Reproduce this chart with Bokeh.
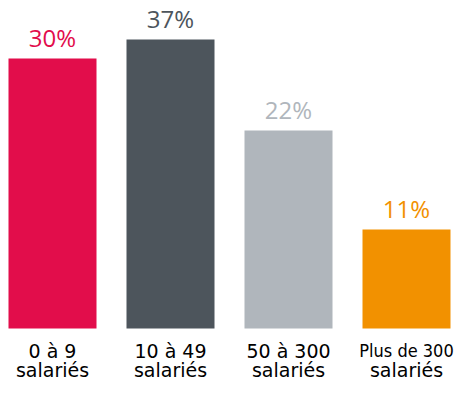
from bokeh.plotting import figure
from bokeh.models import Range1d, ColumnDataSource
from bokeh.core.properties import value
from bokeh.embed import file_html
from bokeh.resources import INLINE

categories_line1 = ["0 à 9", "10 à 49", "50 à 300", "Plus de 300"]
categories_line2 = ["salariés", "salariés", "salariés", "salariés"]
bar_heights = [30, 32.1, 22, 11]          # drawn heights
value_labels = ["30%", "37%", "22%", "11%"]
colors = ["#E20D4B", "#4D555C", "#B0B6BC", "#F29100"]
label_fonts = ["DejaVu Sans", "DejaVu Sans", "DejaVu Sans", "DejaVu Sans Condensed"]
label_sizes = ["19px", "19px", "19px", "18px"]

x = list(range(len(categories_line1)))
src = ColumnDataSource(dict(
    x=x,
    top=bar_heights,
    label=value_labels,
    color=colors,
    ytext=[h + 2.3 for h in bar_heights],
    l1=categories_line1,
    l2=categories_line2,
    y1=[-2.45] * len(x),
    y2=[-4.62] * len(x),
    font=label_fonts,
    fsize=label_sizes,
))

p = figure(width=454, height=405, output_backend="svg", toolbar_location=None,
           x_range=Range1d(-0.4407, 3.4068), y_range=Range1d(-8.556, 36.444),
           min_border=0)
p.outline_line_color = None
p.xaxis.visible = False
p.yaxis.visible = False
p.xgrid.visible = False
p.ygrid.visible = False

p.vbar(x="x", top="top", bottom=0, width=0.7458, fill_color="color",
       line_color=None, source=src)

p.text(x="x", y="ytext", text="label", text_color="color",
       text_font=value("Open Sans"), text_font_size="24px",
       text_align="center", text_baseline="alphabetic", source=src)

p.text(x="x", y="y1", text="l1", text_color="#000000",
       text_font="font", text_font_size="fsize",
       text_align="center", text_baseline="alphabetic", source=src)
p.text(x="x", y="y2", text="l2", text_color="#000000",
       text_font=value("DejaVu Sans"), text_font_size="19px",
       text_align="center", text_baseline="alphabetic", source=src)

open("out.html", "w").write(file_html(p, INLINE))
